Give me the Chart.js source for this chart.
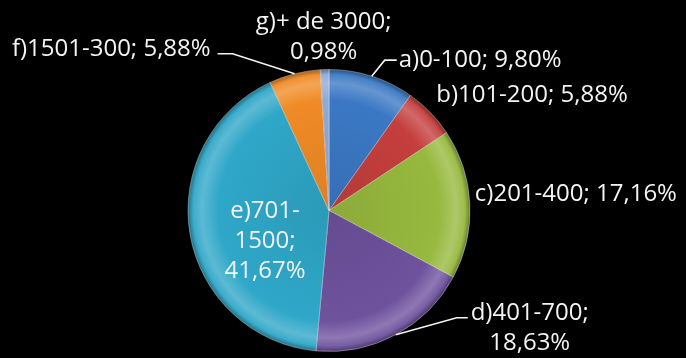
<!DOCTYPE html>
<html>
<head>
<meta charset="utf-8">
<script src="https://cdn.jsdelivr.net/npm/chart.js@4/dist/chart.umd.min.js"></script>
<style>
  html, body { margin: 0; padding: 0; background: #000; }
  canvas { display: block; }
</style>
</head>
<body>
<canvas id="pie" width="686" height="358"></canvas>
<script>
// Share of items per range (percent)
const categories = ["a)0-100", "b)101-200", "c)201-400", "d)401-700", "e)701-1500", "f)1501-300", "g)+ de 3000"];
const shares = [9.80, 5.88, 17.16, 18.63, 41.67, 5.88, 0.98];
const sliceColors = ["#3b78c4", "#c43f3d", "#97b93e", "#6e529d", "#2fa7c8", "#f08b26", "#8eaad6"];

// How each label is broken into lines and where it sits relative to the slice's outer edge
const labelLayout = [
  { lines: "one",   align: "left",   dx: 27,  dy: -16, leader: [[13, -16], [25, -16]] },
  { lines: "one",   align: "left",   dx: 6,   dy: -17 },
  { lines: "one",   align: "left",   dx: 5,   dy: -10 },
  { lines: "two",   align: "center", dx: 134, dy: -22, leader: [[61, -17], [72, -17]] },
  { lines: "three", align: "center", dx: 75,  dy: -23 },
  { lines: "one",   align: "right",  dx: -84, dy: -25, leader: [[-62, -20], [-77, -20]] },
  { lines: "two",   align: "center", dx: -1,  dy: -47 }
];
const lineGap = 30;

function pct(v) { return v.toFixed(2).replace(".", ",") + "%"; }

function labelLines(i) {
  const name = categories[i], value = pct(shares[i]);
  const mode = labelLayout[i].lines;
  if (mode === "one") return [name + "; " + value];
  if (mode === "two") return [name + ";", value];
  const cut = name.indexOf("-") + 1;
  return [name.slice(0, cut), name.slice(cut) + ";", value];
}

function shade(hex, f) {
  const n = parseInt(hex.slice(1), 16);
  let r = n >> 16, g = (n >> 8) & 255, b = n & 255;
  const t = f < 0 ? 0 : 255, p = Math.abs(f);
  r = Math.round(r + (t - r) * p); g = Math.round(g + (t - g) * p); b = Math.round(b + (t - b) * p);
  return `rgb(${r},${g},${b})`;
}

// Radial shading: slightly darker centre, bright bevel near the rim, dark outer edge
function sliceFill(ctx) {
  const base = sliceColors[ctx.dataIndex];
  const area = ctx.chart.chartArea;
  if (!area) return base;
  const cx = (area.left + area.right) / 2, cy = (area.top + area.bottom) / 2;
  const r = Math.min(area.width, area.height) / 2;
  const g = ctx.chart.ctx.createRadialGradient(cx, cy, 0, cx, cy, r);
  g.addColorStop(0, shade(base, -0.08));
  g.addColorStop(0.78, base);
  g.addColorStop(0.9, shade(base, 0.22));
  g.addColorStop(0.96, shade(base, 0.06));
  g.addColorStop(1, shade(base, -0.35));
  return g;
}

const sliceLabels = {
  id: "sliceLabels",
  afterDatasetsDraw(chart) {
    const c = chart.ctx;
    const arcs = chart.getDatasetMeta(0).data;
    c.save();
    c.font = "24px 'Open Sans'";
    c.fillStyle = "#f4f4f4";
    c.strokeStyle = "#f4f4f4";
    c.lineWidth = 1.6;
    c.textBaseline = "middle";
    arcs.forEach((arc, i) => {
      const p = arc.getProps(["x", "y", "startAngle", "endAngle", "outerRadius"], true);
      const mid = (p.startAngle + p.endAngle) / 2;
      const ax = p.x + Math.cos(mid) * p.outerRadius;
      const ay = p.y + Math.sin(mid) * p.outerRadius;
      const lay = labelLayout[i];
      if (lay.leader) {
        c.beginPath();
        c.moveTo(ax, ay);
        lay.leader.forEach(([lx, ly]) => c.lineTo(ax + lx, ay + ly));
        c.stroke();
      }
      c.textAlign = lay.align;
      labelLines(i).forEach((t, k) => c.fillText(t, ax + lay.dx, ay + lay.dy + k * lineGap));
    });
    c.restore();
  }
};

new Chart(document.getElementById("pie"), {
  type: "pie",
  data: {
    labels: categories,
    datasets: [{
      data: shares,
      backgroundColor: sliceFill,
      borderColor: "rgba(255,255,255,0.35)",
      borderWidth: 1
    }]
  },
  options: {
    responsive: false,
    animation: false,
    layout: { padding: { top: 69, bottom: 6, left: 0, right: 28 } },
    plugins: { legend: { display: false }, tooltip: { enabled: false } }
  },
  plugins: [sliceLabels]
});
</script>
</body>
</html>
